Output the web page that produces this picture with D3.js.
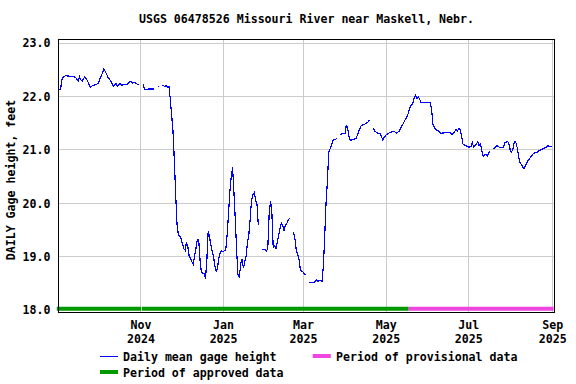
<!DOCTYPE html>
<html><head><meta charset="utf-8">
<script src="https://cdn.jsdelivr.net/npm/d3@7"></script>
<style>
body{margin:0;background:#fff;}
svg{display:block;font-family:"DejaVu Sans Mono",monospace;font-weight:bold;}
</style></head><body>
<svg id="c" width="576" height="384"></svg>
<script>
const title = "USGS 06478526 Missouri River near Maskell, Nebr.";
const yLabel = "DAILY Gage height, feet";
const yTicks = [18, 19, 20, 21, 22, 23];
const xTicks = ["2024-11-01", "2025-01-01", "2025-03-01", "2025-05-01", "2025-07-01", "2025-09-01"];
const approvedPeriods = [["2024-09-01", "2024-11-01T12"], ["2024-11-02", "2025-05-18"]];
const provisionalPeriods = [["2025-05-18", "2025-09-02"]];
const legendLine = "Daily mean gage height";
const legendProvisional = "Period of provisional data";
const legendApproved = "Period of approved data";
// daily mean gage height, feet (null = missing record)
const daily = [
["2024-09-01",22.12],["2024-09-03",22.12],["2024-09-04",22.30],["2024-09-05",22.36],["2024-09-07",22.38],
["2024-09-09",22.37],["2024-09-11",22.37],["2024-09-14",22.35],["2024-09-16",22.28],["2024-09-17",22.36],
["2024-09-18",22.30],["2024-09-19",22.28],["2024-09-21",22.36],["2024-09-23",22.28],["2024-09-25",22.16],
["2024-09-27",22.20],["2024-09-29",22.21],["2024-10-01",22.24],["2024-10-02",22.32],["2024-10-04",22.43],
["2024-10-05",22.51],["2024-10-07",22.41],["2024-10-08",22.35],["2024-10-10",22.28],["2024-10-12",22.18],
["2024-10-14",22.23],["2024-10-15",22.18],["2024-10-17",22.23],["2024-10-18",22.20],["2024-10-20",22.21],
["2024-10-22",22.21],["2024-10-23",22.24],["2024-10-25",22.28],["2024-10-26",22.24],["2024-10-28",22.25],
["2024-10-30",22.21],["2024-10-31",22.21],["2024-11-01",null],["2024-11-03",22.23],["2024-11-04",22.12],
["2024-11-08",22.13],["2024-11-11",22.13],["2024-11-12",null],["2024-11-14",22.18],["2024-11-15",22.16],
["2024-11-16",null],["2024-11-17",22.20],["2024-11-19",22.18],["2024-11-20",22.20],["2024-11-21",22.16],
["2024-11-22",22.18],["2024-11-23",21.95],["2024-11-24",21.65],["2024-11-25",21.35],["2024-11-26",20.80],
["2024-11-27",20.15],["2024-11-28",19.60],["2024-11-29",19.40],["2024-11-30",19.37],["2024-12-01",19.33],
["2024-12-02",19.23],["2024-12-03",19.14],["2024-12-04",19.11],["2024-12-05",19.26],["2024-12-06",19.17],
["2024-12-07",19.00],["2024-12-08",18.95],["2024-12-09",18.89],["2024-12-10",18.85],["2024-12-11",19.00],
["2024-12-12",19.15],["2024-12-13",19.31],["2024-12-14",19.30],["2024-12-15",18.92],["2024-12-16",18.70],
["2024-12-17",18.68],["2024-12-18",18.68],["2024-12-19",18.58],["2024-12-20",18.92],["2024-12-21",19.47],
["2024-12-22",19.36],["2024-12-23",19.20],["2024-12-24",19.08],["2024-12-25",18.98],["2024-12-26",18.80],
["2024-12-27",18.70],["2024-12-28",18.80],["2024-12-29",18.98],["2024-12-30",19.08],["2024-12-31",19.10],
["2025-01-01",19.08],["2025-01-02",19.10],["2025-01-03",19.12],["2025-01-04",19.40],["2025-01-05",19.79],
["2025-01-06",20.20],["2025-01-07",20.48],["2025-01-08",20.66],["2025-01-09",20.20],["2025-01-10",19.70],
["2025-01-11",19.10],["2025-01-12",18.65],["2025-01-13",18.61],["2025-01-14",18.85],["2025-01-15",18.95],
["2025-01-16",18.77],["2025-01-17",18.90],["2025-01-18",19.00],["2025-01-19",19.25],["2025-01-20",19.40],
["2025-01-21",19.70],["2025-01-22",20.05],["2025-01-23",20.15],["2025-01-24",20.19],["2025-01-25",20.05],
["2025-01-26",19.98],["2025-01-27",19.58],["2025-01-28",null],["2025-01-30",19.13],["2025-01-31",19.12],
["2025-02-01",19.12],["2025-02-02",19.09],["2025-02-03",19.14],["2025-02-04",19.79],["2025-02-05",20.03],
["2025-02-06",19.83],["2025-02-07",19.17],["2025-02-08",19.20],["2025-02-09",19.14],["2025-02-10",19.26],
["2025-02-11",19.39],["2025-02-12",19.51],["2025-02-13",19.62],["2025-02-14",19.58],["2025-02-15",19.48],
["2025-02-16",19.58],["2025-02-17",19.61],["2025-02-18",19.67],["2025-02-19",19.71],["2025-02-20",null],
["2025-02-22",19.45],["2025-02-23",19.33],["2025-02-24",19.11],["2025-02-25",19.03],["2025-02-26",18.95],
["2025-02-27",18.75],["2025-02-28",18.72],["2025-03-01",18.70],["2025-03-02",18.67],["2025-03-03",18.65],
["2025-03-04",null],["2025-03-05",18.52],["2025-03-07",18.50],["2025-03-09",18.50],["2025-03-11",18.55],
["2025-03-12",18.53],["2025-03-14",18.55],["2025-03-15",18.53],["2025-03-16",18.80],["2025-03-17",19.36],
["2025-03-18",20.00],["2025-03-19",20.40],["2025-03-20",20.95],["2025-03-22",21.07],["2025-03-23",21.17],
["2025-03-25",21.18],["2025-03-26",21.21],["2025-03-27",null],["2025-03-28",21.28],["2025-03-30",21.29],
["2025-04-01",21.30],["2025-04-02",21.46],["2025-04-03",21.39],["2025-04-04",21.23],["2025-04-05",21.17],
["2025-04-07",21.18],["2025-04-09",21.20],["2025-04-10",21.26],["2025-04-12",21.39],["2025-04-13",21.45],
["2025-04-15",21.46],["2025-04-16",21.48],["2025-04-18",21.51],["2025-04-19",21.55],["2025-04-20",null],
["2025-04-22",21.39],["2025-04-23",21.34],["2025-04-25",21.30],["2025-04-27",21.29],["2025-04-28",21.23],
["2025-04-29",21.17],["2025-04-30",21.23],["2025-05-01",21.26],["2025-05-03",21.30],["2025-05-05",21.32],
["2025-05-07",21.34],["2025-05-08",21.32],["2025-05-09",21.30],["2025-05-11",21.34],["2025-05-12",21.40],
["2025-05-14",21.48],["2025-05-15",21.54],["2025-05-17",21.62],["2025-05-18",21.70],["2025-05-19",21.79],
["2025-05-21",21.86],["2025-05-22",21.96],["2025-05-23",22.01],["2025-05-24",21.95],["2025-05-25",21.98],
["2025-05-26",21.95],["2025-05-27",21.88],["2025-05-29",21.88],["2025-05-31",21.87],["2025-06-02",21.87],
["2025-06-03",21.87],["2025-06-04",21.73],["2025-06-05",21.45],["2025-06-07",21.37],["2025-06-09",21.34],
["2025-06-11",21.30],["2025-06-14",21.31],["2025-06-16",21.31],["2025-06-17",21.32],["2025-06-19",21.28],
["2025-06-20",21.30],["2025-06-22",21.37],["2025-06-23",21.34],["2025-06-24",21.39],["2025-06-25",21.37],
["2025-06-26",21.26],["2025-06-27",21.10],["2025-06-29",21.07],["2025-07-01",21.04],["2025-07-03",21.05],
["2025-07-04",21.12],["2025-07-05",21.04],["2025-07-07",21.10],["2025-07-08",21.14],["2025-07-09",21.07],
["2025-07-10",21.10],["2025-07-11",20.98],["2025-07-12",20.87],["2025-07-14",20.91],["2025-07-15",20.87],
["2025-07-16",20.92],["2025-07-17",20.97],["2025-07-18",null],["2025-07-19",21.01],["2025-07-21",21.03],
["2025-07-22",21.07],["2025-07-23",21.05],["2025-07-24",21.04],["2025-07-26",21.03],["2025-07-27",21.04],
["2025-07-28",21.12],["2025-07-30",21.15],["2025-07-31",21.10],["2025-08-01",20.98],["2025-08-02",20.95],
["2025-08-03",21.01],["2025-08-04",21.14],["2025-08-05",21.14],["2025-08-06",21.04],["2025-08-07",20.89],
["2025-08-08",20.76],["2025-08-10",20.68],["2025-08-11",20.64],["2025-08-13",20.73],["2025-08-14",20.79],
["2025-08-16",20.85],["2025-08-18",20.92],["2025-08-19",20.93],["2025-08-21",20.95],["2025-08-22",20.98],
["2025-08-24",20.99],["2025-08-25",21.01],["2025-08-27",21.03],["2025-08-28",21.05],["2025-08-29",21.07],
["2025-08-30",21.05],["2025-09-01",21.05]
];

const parse = s => new Date(s.length > 10 ? s + ":00:00Z" : s + "T00:00:00Z");
const data = daily.map(([d, v]) => ({date: parse(d), v}));

const svg = d3.select("#c");
const L = 58.5, R = 554.5, T = 39.5, B = 312.5;
const x = d3.scaleUtc().domain([parse("2024-09-01"), parse("2025-09-03")]).range([57.8, 555]);
const y = d3.scaleLinear().domain([18, 23]).range([309.5, 42.5]);
const fs = "11.6px";

// gridlines
svg.append("g").selectAll("line").data(yTicks.filter(t => t > 18)).join("line")
  .attr("x1", L).attr("x2", R).attr("y1", d => Math.round(y(d)) + 0.5).attr("y2", d => Math.round(y(d)) + 0.5)
  .attr("stroke", "#cccccc").attr("stroke-width", 1);
svg.append("g").selectAll("line").data(xTicks.map(parse)).join("line")
  .attr("x1", d => Math.round(x(d)) + 0.5).attr("x2", d => Math.round(x(d)) + 0.5).attr("y1", T).attr("y2", B)
  .attr("stroke", "#cccccc").attr("stroke-width", 1);

// period bars
const barY = y(18) - 0.8;
svg.append("g").selectAll("line").data(approvedPeriods).join("line")
  .attr("x1", (d, i) => x(parse(d[0])) - (i === 0 ? 1 : 0)).attr("x2", d => x(parse(d[1])))
  .attr("y1", barY).attr("y2", barY).attr("stroke", "#009900").attr("stroke-width", 4);
svg.append("g").selectAll("line").data(provisionalPeriods).join("line")
  .attr("x1", d => x(parse(d[0]))).attr("x2", d => Math.min(x(parse(d[1])), R - 0.8))
  .attr("y1", barY).attr("y2", barY).attr("stroke", "#ee46de").attr("stroke-width", 4);

// data line
const line = d3.line().defined(d => d.v != null).x(d => x(d.date)).y(d => y(d.v));
svg.append("path").datum(data).attr("d", line).attr("fill", "none")
  .attr("stroke", "#0000ff").attr("stroke-width", 1.2).attr("stroke-linejoin", "miter")
  .attr("shape-rendering", "crispEdges");

// frame
svg.append("rect").attr("x", L).attr("y", T).attr("width", R - L).attr("height", B - T)
  .attr("fill", "none").attr("stroke", "#000").attr("stroke-width", 1);

// y axis labels
const yAx = svg.append("g").attr("transform", `translate(${L},0)`)
  .call(d3.axisLeft(y).tickValues(yTicks).tickFormat(d3.format(".1f")).tickSize(0).tickPadding(8));
yAx.select(".domain").remove();
yAx.selectAll("text").attr("font-size", fs).attr("font-family", "DejaVu Sans Mono").attr("font-weight", "bold").attr("fill", "#000").attr("dy", "0.38em");

// x axis labels (month / year)
const xt = xTicks.map(parse);
const xAx1 = svg.append("g").attr("transform", `translate(0,${B})`)
  .call(d3.axisBottom(x).tickValues(xt).tickFormat(d3.utcFormat("%b")).tickSize(0).tickPadding(8));
const xAx2 = svg.append("g").attr("transform", `translate(0,${B + 14})`)
  .call(d3.axisBottom(x).tickValues(xt).tickFormat(d3.utcFormat("%Y")).tickSize(0).tickPadding(8));
[xAx1, xAx2].forEach(g => {
  g.select(".domain").remove();
  g.selectAll("text").attr("font-size", fs).attr("font-family", "DejaVu Sans Mono").attr("font-weight", "bold").attr("fill", "#000");
});

// title
svg.append("text").attr("x", (L + R) / 2).attr("y", 23).attr("text-anchor", "middle")
  .attr("font-size", fs).text(title);
// y label
svg.append("text").attr("transform", "translate(15,180) rotate(-90)").attr("text-anchor", "middle")
  .attr("font-size", fs).text(yLabel);

// legend
const lg = svg.append("g");
lg.append("line").attr("x1", 100).attr("x2", 118).attr("y1", 356.5).attr("y2", 356.5).attr("stroke", "#0000ff").attr("stroke-width", 1);
lg.append("text").attr("x", 123).attr("y", 360.7).attr("font-size", fs).text(legendLine);
lg.append("rect").attr("x", 312.7).attr("y", 354).attr("width", 18).attr("height", 4).attr("fill", "#ee46de");
lg.append("text").attr("x", 336).attr("y", 360.7).attr("font-size", fs).text(legendProvisional);
lg.append("rect").attr("x", 100).attr("y", 370).attr("width", 18).attr("height", 4).attr("fill", "#009900");
lg.append("text").attr("x", 123).attr("y", 376.7).attr("font-size", fs).text(legendApproved);
</script>
</body></html>
